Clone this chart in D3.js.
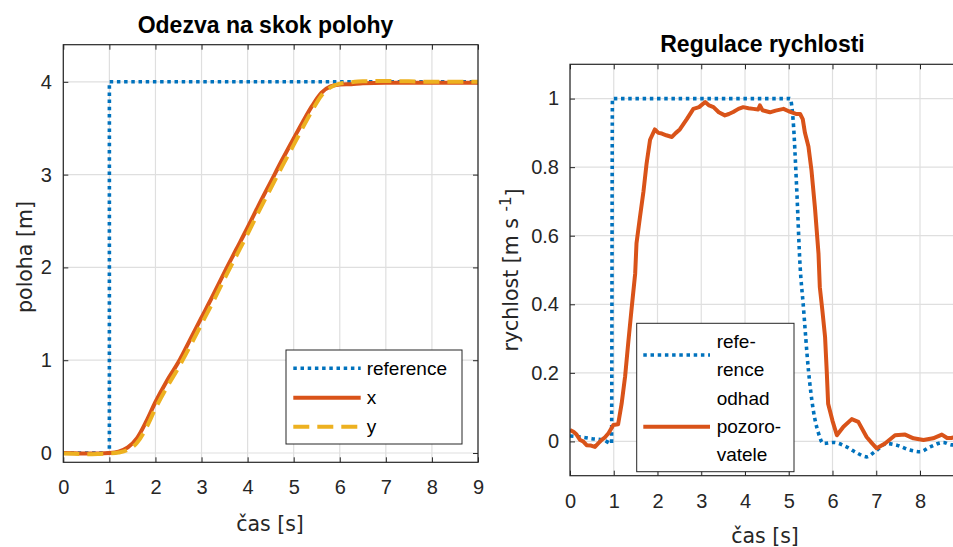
<!DOCTYPE html>
<html>
<head>
<meta charset="utf-8">
<script src="https://cdn.jsdelivr.net/npm/d3@7"></script>
<style>
  body { margin: 0; background: #fff; }
  svg { display: block; }
</style>
</head>
<body>
<svg id="chart" width="953" height="547"></svg>
<script>
// ---- Position step response (left panel) ----
const posTime = [0, 0.25, 0.5, 0.75, 1.0, 1.2, 1.4, 1.6, 1.8, 2.0, 2.25, 2.5, 2.75, 3.0, 3.25, 3.5,
                 3.75, 4.0, 4.25, 4.5, 4.75, 5.0, 5.2, 5.4, 5.6, 5.8, 6.0, 6.25, 6.5, 7.0, 7.5, 8.0, 8.5, 9.0];
const posX = [0, -0.003, -0.006, -0.005, 0.0, 0.015, 0.06, 0.16, 0.34, 0.55, 0.78, 0.98, 1.22, 1.46, 1.70, 1.95,
              2.19, 2.43, 2.68, 2.92, 3.16, 3.39, 3.57, 3.74, 3.88, 3.95, 3.97, 3.975, 3.985, 3.99, 3.99, 3.99, 3.99, 3.99];
const posY = [-0.005, -0.008, -0.012, -0.01, -0.005, 0.005, 0.035, 0.11, 0.27, 0.48, 0.71, 0.92, 1.15, 1.39, 1.63, 1.88,
              2.12, 2.36, 2.61, 2.85, 3.09, 3.32, 3.51, 3.69, 3.85, 3.94, 3.98, 3.995, 4.005, 4.01, 4.005, 4.0, 4.0, 4.0];
const posRefTime = [0, 1, 1, 9];
const posRef = [0, 0, 4, 4];

// ---- Speed control (right panel) ----
const velRefTime = [0, 0.3, 0.5, 0.76, 0.95, 0.97, 5.03, 5.1, 5.18, 5.26, 5.33, 5.45, 5.56, 5.68, 5.79, 6.02,
                    6.32, 6.55, 6.78, 6.97, 7.24, 7.47, 7.77, 8.0, 8.23, 8.53, 8.72, 9.0];
const velRef = [0.016, 0.012, 0.008, 0.004, -0.006, 1.0, 1.0, 0.937, 0.742, 0.51, 0.40, 0.208, 0.092, 0.024, -0.006, -0.003,
                -0.016, -0.033, -0.045, -0.03, -0.006, -0.011, -0.025, -0.03, -0.016, -0.003, -0.01, -0.008];
const velEstTime = [0, 0.08, 0.15, 0.23, 0.3, 0.38, 0.48, 0.57, 0.65, 0.72, 0.8, 0.88, 0.99, 1.1, 1.18, 1.26, 1.33,
                    1.41, 1.49, 1.52, 1.6, 1.68, 1.75, 1.83, 1.94, 2.02, 2.1, 2.2, 2.33, 2.42, 2.51, 2.67, 2.82,
                    2.95, 3.09, 3.18, 3.28, 3.4, 3.54, 3.63, 3.73, 3.85, 3.96, 4.08, 4.19, 4.3, 4.34, 4.4, 4.57,
                    4.7, 4.88, 5.0, 5.07, 5.18, 5.26, 5.32, 5.37, 5.45, 5.52, 5.6, 5.68, 5.71, 5.77, 5.83, 5.87,
                    5.9, 6.0, 6.1, 6.25, 6.44, 6.59, 6.78, 6.9, 7.01, 7.2, 7.43, 7.66, 7.85, 8.08, 8.3, 8.5,
                    8.62, 8.72, 8.85, 9.0];
const velEst = [0.033, 0.028, 0.02, 0.004, 0.0, -0.011, -0.012, -0.016, -0.005, 0.004, 0.012, 0.024, 0.048, 0.05, 0.11, 0.19, 0.286,
                0.39, 0.49, 0.578, 0.655, 0.73, 0.81, 0.88, 0.91, 0.9, 0.898, 0.893, 0.888, 0.9, 0.91, 0.94, 0.97,
                0.975, 0.99, 0.98, 0.975, 0.96, 0.951, 0.955, 0.961, 0.97, 0.975, 0.972, 0.97, 0.968, 0.98, 0.966, 0.96,
                0.965, 0.97, 0.963, 0.96, 0.955, 0.955, 0.94, 0.9, 0.86, 0.79, 0.68, 0.548, 0.45, 0.38, 0.305, 0.2,
                0.11, 0.06, 0.018, 0.043, 0.065, 0.057, 0.013, -0.005, -0.02, -0.006, 0.018, 0.02, 0.009, 0.004, 0.009, 0.02,
                0.01, 0.01, 0.015, 0.012];

const timeTicks = [0, 1, 2, 3, 4, 5, 6, 7, 8, 9];
const velTimeLabels = [0, 1, 2, 3, 4, 5, 6, 7, 8];   // the 9 s tick lies past the right edge
const posTicks = [0, 1, 2, 3, 4];
const velTicks = [0, 0.2, 0.4, 0.6, 0.8, 1];

const COLORS = { blue: '#0072BD', orange: '#D95319', yellow: '#EDB120', axis: '#262626', grid: '#dfdfdf' };
const TICK_FONT = '"Liberation Sans", Arial, Helvetica, sans-serif';
const LABEL_FONT = '"DejaVu Sans", sans-serif';

const svg = d3.select('#chart');

function makePanel(cfg) {
  const x = d3.scaleLinear().domain(cfg.xDomain).range([cfg.left, cfg.right]);
  const y = d3.scaleLinear().domain(cfg.yDomain).range([cfg.bottom, cfg.top]);
  const g = svg.append('g');

  const clipId = 'clip-' + cfg.id;
  g.append('clipPath').attr('id', clipId)
    .append('rect')
    .attr('x', cfg.left).attr('y', cfg.top)
    .attr('width', cfg.right - cfg.left).attr('height', cfg.bottom - cfg.top);

  // grid
  const grid = g.append('g');
  grid.selectAll('line.gx').data(cfg.xTicks).join('line')
    .attr('x1', d => x(d)).attr('x2', d => x(d))
    .attr('y1', cfg.top).attr('y2', cfg.bottom)
    .attr('stroke', COLORS.grid).attr('stroke-width', 1.2);
  grid.selectAll('line.gy').data(cfg.yTicks).join('line')
    .attr('x1', cfg.left).attr('x2', cfg.right)
    .attr('y1', d => y(d)).attr('y2', d => y(d))
    .attr('stroke', COLORS.grid).attr('stroke-width', 1.2);

  // axes with inward ticks on all four sides
  const styleAxis = sel => {
    sel.select('.domain').remove();
    sel.selectAll('.tick line').attr('stroke', COLORS.axis).attr('stroke-width', 1);
    sel.selectAll('.tick text').attr('fill', COLORS.axis)
      .style('font-family', TICK_FONT).style('font-size', '20px');
  };
  g.append('g').attr('transform', `translate(0,${cfg.bottom})`)
    .call(d3.axisBottom(x).tickValues(cfg.xLabels).tickSize(-5).tickPadding(18).tickFormat(d3.format('d')))
    .call(styleAxis);
  g.append('g').attr('transform', `translate(0,${cfg.top})`)
    .call(d3.axisTop(x).tickValues(cfg.xTicks).tickSize(-5).tickFormat(''))
    .call(styleAxis);
  g.append('g').attr('transform', `translate(${cfg.left},0)`)
    .call(d3.axisLeft(y).tickValues(cfg.yTicks).tickSize(-5).tickPadding(cfg.yPad).tickFormat(cfg.yFormat))
    .call(styleAxis);
  g.append('g').attr('transform', `translate(${cfg.right},0)`)
    .call(d3.axisRight(y).tickValues(cfg.yTicks).tickSize(-5).tickFormat(''))
    .call(styleAxis);

  // data lines
  const plot = g.append('g').attr('clip-path', `url(#${clipId})`);
  cfg.series.forEach(s => {
    const pts = s.t.map((t, i) => [t, s.v[i]]);
    const line = d3.line().x(d => x(d[0])).y(d => y(d[1])).curve(s.curve || d3.curveLinear);
    plot.append('path').datum(pts)
      .attr('d', line)
      .attr('fill', 'none')
      .attr('stroke', s.color)
      .attr('stroke-width', s.width)
      .attr('stroke-dasharray', s.dash || null)
      .attr('stroke-linejoin', 'round');
  });

  // box
  g.append('rect')
    .attr('x', cfg.left).attr('y', cfg.top)
    .attr('width', cfg.right - cfg.left).attr('height', cfg.bottom - cfg.top)
    .attr('fill', 'none').attr('stroke', COLORS.axis).attr('stroke-width', 1.2);

  // title
  g.append('text')
    .attr('x', cfg.titleX).attr('y', cfg.titleY)
    .attr('text-anchor', 'middle')
    .style('font-family', TICK_FONT).style('font-weight', 'bold').style('font-size', '23px')
    .attr('fill', '#000')
    .text(cfg.title);

  // x label
  g.append('text')
    .attr('x', cfg.xLabelX).attr('y', cfg.xLabelY)
    .attr('text-anchor', 'middle')
    .style('font-family', LABEL_FONT).style('font-size', '20.5px')
    .attr('fill', COLORS.axis)
    .text('čas [s]');

  return { g, x, y };
}

const DOT = '3.5 3.7';
const DASH = '16 8';

// left panel
const left = makePanel({
  id: 'pos', left: 63.3, right: 478, top: 44.7, bottom: 462.3,
  xDomain: [0, 9], yDomain: [-0.1, 4.4],
  xTicks: timeTicks, xLabels: timeTicks, yTicks: posTicks, yPad: 11.5, yFormat: d3.format('d'),
  title: 'Odezva na skok polohy', titleX: 265.5, titleY: 33,
  xLabelX: 270, xLabelY: 531,
  series: [
    { t: posRefTime, v: posRef, color: COLORS.blue, width: 3.6, dash: DOT },
    { t: posTime, v: posX, color: COLORS.orange, width: 4, curve: d3.curveMonotoneX },
    { t: posTime, v: posY, color: COLORS.yellow, width: 4, dash: DASH, curve: d3.curveMonotoneX }
  ]
});

left.g.append('text')
  .attr('transform', 'translate(31.5,257) rotate(-90)')
  .attr('text-anchor', 'middle')
  .style('font-family', LABEL_FONT).style('font-size', '20.5px')
  .attr('fill', COLORS.axis)
  .text('poloha [m]');

// left legend
{
  const lg = left.g.append('g');
  lg.append('rect').attr('x', 286).attr('y', 350).attr('width', 176).attr('height', 94)
    .attr('fill', '#fff').attr('stroke', COLORS.axis).attr('stroke-width', 1);
  const entries = [
    { label: 'reference', color: COLORS.blue, dash: DOT, y: 368.3 },
    { label: 'x', color: COLORS.orange, dash: null, y: 397.7 },
    { label: 'y', color: COLORS.yellow, dash: DASH, y: 426.7 }
  ];
  entries.forEach(e => {
    lg.append('line').attr('x1', 293.3).attr('x2', 360.7).attr('y1', e.y).attr('y2', e.y)
      .attr('stroke', e.color).attr('stroke-width', e.dash === DOT ? 3.6 : 4)
      .attr('stroke-dasharray', e.dash);
    lg.append('text').attr('x', 366.7).attr('y', e.y).attr('dy', '0.35em')
      .style('font-family', TICK_FONT).style('font-size', '19px')
      .attr('fill', '#000').text(e.label);
  });
}

// right panel
const right = makePanel({
  id: 'vel', left: 570, right: 963.75, top: 64.3, bottom: 475.7,
  xDomain: [0, 9], yDomain: [-0.1, 1.1],
  xTicks: timeTicks, xLabels: velTimeLabels, yTicks: velTicks, yPad: 11,
  yFormat: d => (d === 0 || d === 1) ? String(d) : d3.format('.1f')(d),
  title: 'Regulace rychlosti', titleX: 762.5, titleY: 52,
  xLabelX: 765, xLabelY: 543,
  series: [
    { t: velRefTime, v: velRef, color: COLORS.blue, width: 3.6, dash: DOT, curve: d3.curveMonotoneX },
    { t: velEstTime, v: velEst, color: COLORS.orange, width: 4 }
  ]
});

{
  const t = right.g.append('text')
    .attr('transform', 'translate(518,270) rotate(-90)')
    .attr('text-anchor', 'middle')
    .style('font-family', LABEL_FONT).style('font-size', '20.5px')
    .attr('fill', COLORS.axis);
  t.append('tspan').text('rychlost [m s ');
  t.append('tspan').attr('dy', '-0.5em').style('font-size', '15px').text('-1');
  t.append('tspan').attr('dy', '0.5em').text(']');
}

// right legend
{
  const lg = right.g.append('g');
  lg.append('rect').attr('x', 636.7).attr('y', 323.3).attr('width', 157.3).attr('height', 148.4)
    .attr('fill', '#fff').attr('stroke', COLORS.axis).attr('stroke-width', 1);
  lg.append('line').attr('x1', 643.3).attr('x2', 710).attr('y1', 355).attr('y2', 355)
    .attr('stroke', COLORS.blue).attr('stroke-width', 3.6).attr('stroke-dasharray', DOT);
  lg.append('line').attr('x1', 643.3).attr('x2', 710).attr('y1', 426.7).attr('y2', 426.7)
    .attr('stroke', COLORS.orange).attr('stroke-width', 4);
  const lines = ['refe-', 'rence', 'odhad', 'pozoro-', 'vatele'];
  const baselines = [348, 376, 405, 433, 461];
  lines.forEach((s, i) => {
    lg.append('text').attr('x', 716.7).attr('y', baselines[i])
      .style('font-family', TICK_FONT).style('font-size', '19px')
      .attr('fill', '#000').text(s);
  });
}
</script>
</body>
</html>
